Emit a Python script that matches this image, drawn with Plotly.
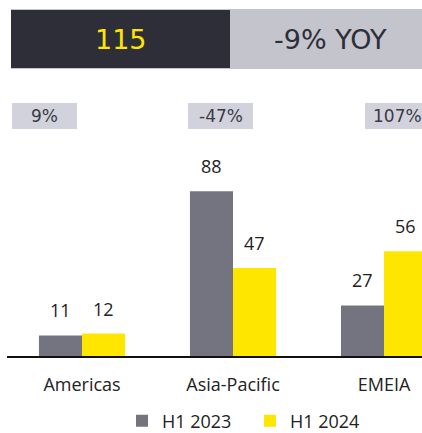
import plotly.graph_objects as go

categories = ["Americas", "Asia-Pacific", "EMEIA"]
h1_2023 = [11, 88, 27]
h1_2024 = [12, 47, 56]
yoy_changes = ["9%", "-47%", "107%"]
total_value = "115"
total_change = "-9% YOY"
series_names = ["H1 2023", "H1 2024"]

GRAY = "#747480"
YELLOW = "#FFE600"
DARK = "#2E2E38"
LABEL_FONT = "Open Sans"
HEAD_FONT = "DejaVu Sans"

W, H = 422, 433
L, R, T, B = 7, 0, 140, 77
PW = W - L - R
PH = H - T - B


def px(x):
    return (x - L) / PW


def py(y):
    return (H - B - y) / PH


fig = go.Figure()
fig.add_trace(go.Bar(x=categories, y=h1_2023, name=series_names[0], legend="legend",
                     marker=dict(color=GRAY, line=dict(width=0))))
fig.add_trace(go.Bar(x=categories, y=h1_2024, name=series_names[1], legend="legend2",
                     marker=dict(color=YELLOW, line=dict(width=0))))

annotations = []
for c, v in zip(categories, h1_2023):
    annotations.append(dict(x=c, y=v, xref="x", yref="y", text=str(v), showarrow=False,
                            xshift=-21.5, yshift=11, yanchor="bottom",
                            font=dict(family=LABEL_FONT, size=18, color="#222222")))
for c, v in zip(categories, h1_2024):
    annotations.append(dict(x=c, y=v, xref="x", yref="y", text=str(v), showarrow=False,
                            xshift=21.5, yshift=11, yanchor="bottom",
                            font=dict(family=LABEL_FONT, size=18, color="#222222")))

shapes = [
    dict(type="rect", xref="paper", yref="paper", x0=px(11), x1=px(430), y0=py(69), y1=py(9),
         fillcolor="#C4C4CD", line=dict(width=0), layer="below"),
    dict(type="rect", xref="paper", yref="paper", x0=px(11), x1=px(230), y0=py(68), y1=py(10),
         fillcolor=DARK, line=dict(width=0), layer="below"),
]
annotations.append(dict(x=px(121), y=py(39), xref="paper", yref="paper", text=total_value,
                        showarrow=False, xanchor="center", yanchor="middle",
                        font=dict(family=HEAD_FONT, size=27, color=YELLOW)))
annotations.append(dict(x=px(330), y=py(39), xref="paper", yref="paper", text=total_change,
                        showarrow=False, xanchor="center", yanchor="middle",
                        font=dict(family=HEAD_FONT, size=27, color=DARK)))

box_lefts = [12, 188, 365]
for bl, t in zip(box_lefts, yoy_changes):
    shapes.append(dict(type="rect", xref="paper", yref="paper", x0=px(bl), x1=px(bl + 65),
                       y0=py(129), y1=py(103), fillcolor="#D2D2DC", line=dict(width=0),
                       layer="below"))
    annotations.append(dict(x=px(bl + 32.5), y=py(116), xref="paper", yref="paper", text=t,
                            showarrow=False, xanchor="center", yanchor="middle",
                            font=dict(family=HEAD_FONT, size=17, color="#3A3A44")))

legend_common = dict(orientation="h", xref="container", yref="container",
                     y=(H - 421) / H, xanchor="left", yanchor="middle",
                     font=dict(family=LABEL_FONT, size=18, color="#222222"),
                     itemwidth=30, bgcolor="rgba(0,0,0,0)")

fig.update_layout(
    width=W, height=H,
    margin=dict(l=L, r=R, t=T, b=B, pad=0, autoexpand=False),
    paper_bgcolor="white", plot_bgcolor="white",
    barmode="group", bargap=0.43, bargroupgap=0,
    showlegend=True,
    legend=dict(x=122 / W, **legend_common),
    legend2=dict(x=250 / W, **legend_common),
    shapes=shapes,
    annotations=annotations,
)
fig.update_xaxes(range=[-(82 - L) / 151, -(82 - L) / 151 + PW / 151],
                 showline=True, linecolor="#111111", linewidth=1.5,
                 showgrid=False, zeroline=False, ticks="", ticklabelstandoff=12,
                 tickfont=dict(family=LABEL_FONT, size=18, color="#222222"))
fig.update_yaxes(range=[0, PH / 1.872], showgrid=False, zeroline=False,
                 showticklabels=False, showline=False)

fig.write_html("out.html", config={"displayModeBar": False},
               post_script="document.body.style.margin='0';document.body.style.overflow='hidden';")
